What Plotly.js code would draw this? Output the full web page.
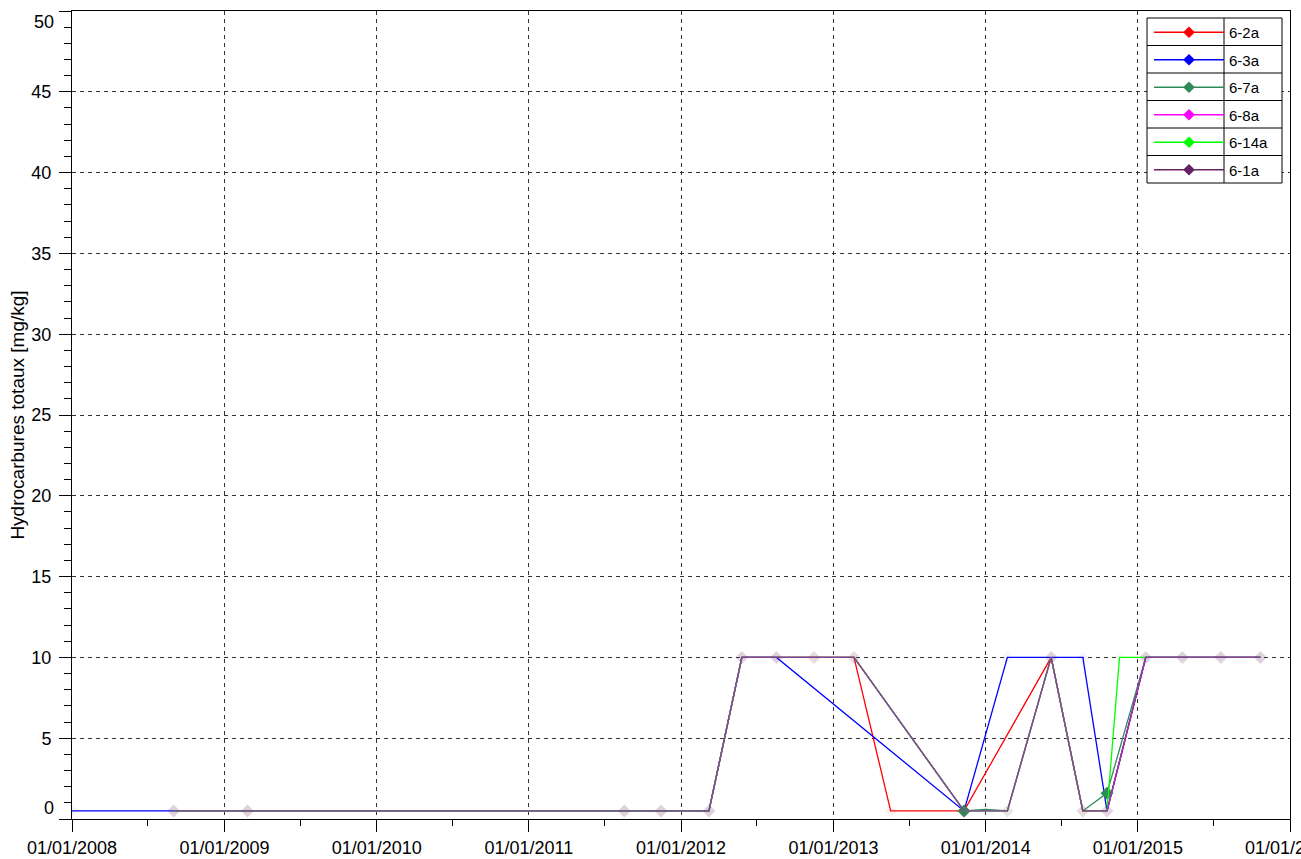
<!DOCTYPE html>
<html>
<head>
<meta charset="utf-8">
<script src="https://cdn.plot.ly/plotly-3.0.1.min.js"></script>
<style>html,body{margin:0;padding:0;background:#fff;}#chart{width:1301px;height:859px;}</style>
</head>
<body>
<div id="chart"></div>
<script>
// ---- data ----
var seriesNames = ["6-2a", "6-3a", "6-7a", "6-8a", "6-14a", "6-1a"];

var dates_6_2a = ["2008-09-01","2009-02-25","2011-08-18","2011-11-14","2012-03-08","2012-05-26","2012-08-17","2012-11-15","2013-02-19","2013-05-18","2013-11-10","2014-06-07","2014-08-22","2014-10-19","2015-01-20","2015-04-18","2015-07-19","2015-10-22"];
var values_6_2a = [0.5,0.5,0.5,0.5,0.5,10,10,10,10,0.5,0.5,10,0.5,0.5,10,10,10,10];

var dates_6_3a = ["2008-01-01","2008-09-01","2009-02-25","2011-08-18","2011-11-14","2012-03-08","2012-05-26","2012-08-17","2013-11-10","2014-02-22","2014-06-07","2014-08-22","2014-10-19","2015-01-20","2015-04-18","2015-07-19","2015-10-22"];
var values_6_3a = [0.5,0.5,0.5,0.5,0.5,0.5,10,10,0.5,10,10,10,0.5,10,10,10,10];

var dates_6_7a = ["2008-09-01","2009-02-25","2011-08-18","2011-11-14","2012-03-08","2012-05-26","2012-08-17","2012-11-15","2013-02-19","2013-11-10","2014-01-01","2014-02-22","2014-06-07","2014-08-22","2014-10-19","2015-01-20","2015-04-18","2015-07-19","2015-10-22"];
var values_6_7a = [0.5,0.5,0.5,0.5,0.5,10,10,10,10,0.5,0.6,0.5,10,0.5,1.6,10,10,10,10];
var measured_6_7a = [0,0,0,0,0,0,0,0,0,1,0,0,0,0,1,0,0,0,0];

var dates_6_8a = ["2008-09-01","2009-02-25","2011-08-18","2011-11-14","2012-03-08","2012-05-26","2012-08-17","2012-11-15","2013-02-19","2013-11-10","2014-02-22","2014-06-07","2014-08-22","2014-10-19","2015-01-20","2015-04-18","2015-07-19","2015-10-22"];
var values_6_8a = [0.5,0.5,0.5,0.5,0.5,10,10,10,10,0.5,0.5,10,0.5,0.5,10,10,10,10];

var dates_6_14a = ["2008-09-01","2009-02-25","2011-08-18","2011-11-14","2012-03-08","2012-05-26","2012-08-17","2012-11-15","2013-02-19","2013-11-10","2014-02-22","2014-06-07","2014-08-22","2014-10-19","2014-11-18","2015-01-20","2015-04-18","2015-07-19","2015-10-22"];
var values_6_14a = [0.5,0.5,0.5,0.5,0.5,10,10,10,10,0.5,0.5,10,0.5,0.5,10,10,10,10,10];

var dates_6_1a = ["2008-09-01","2009-02-25","2011-08-18","2011-11-14","2012-03-08","2012-05-26","2012-08-17","2012-11-15","2013-02-19","2013-11-10","2014-02-22","2014-06-07","2014-08-22","2014-10-19","2015-01-20","2015-04-18","2015-07-19","2015-10-22"];
var values_6_1a = [0.5,0.5,0.5,0.5,0.5,10,10,10,10,0.5,0.5,10,0.5,0.5,10,10,10,10];

var yTickVals = [0,5,10,15,20,25,30,35,40,45,50];
var yTitle = "Hydrocarbures totaux [mg/kg]";

// ---- styling ----
var lineColors = ["#ff0000", "#0000ff", "#2e8b57", "#ff00ff", "#00ff00", "#8c3f9c"];
var legendColors = ["#ff0000", "#0000ff", "#2e8b57", "#ff00ff", "#00ff00", "#662266"];
var faint = ["rgba(255,0,0,0.05)", "rgba(0,0,255,0.04)", "rgba(46,139,87,0.04)", "rgba(255,0,255,0.04)", "rgba(0,255,0,0.04)", "rgba(102,34,102,0.04)"];
var allDates = [dates_6_2a, dates_6_3a, dates_6_7a, dates_6_8a, dates_6_14a, dates_6_1a];
var allValues = [values_6_2a, values_6_3a, values_6_7a, values_6_8a, values_6_14a, values_6_1a];

var FONT = "Liberation Sans, Arial, sans-serif";
var traces = [];
for (var i = 0; i < seriesNames.length; i++) {
  var mc = allValues[i].map(function () { return faint[i]; });
  if (i === 2) {
    mc = measured_6_7a.map(function (m) { return m ? legendColors[2] : faint[2]; });
  }
  traces.push({
    type: "scatter", mode: "lines+markers", name: seriesNames[i],
    x: allDates[i], y: allValues[i],
    line: { color: lineColors[i], width: 1.3 },
    marker: { symbol: "diamond", size: 10, color: mc, line: { width: 0 } },
    showlegend: false, hoverinfo: "x+y+name"
  });
}
// legend entries
for (var j = 0; j < seriesNames.length; j++) {
  traces.push({
    type: "scatter", mode: "lines+markers", name: seriesNames[j],
    x: [null], y: [null], legendgroup: "g" + j,
    line: { color: legendColors[j], width: 1.3 },
    marker: { symbol: "diamond", size: 9, color: legendColors[j] },
    showlegend: true
  });
}

// pixel helpers for the legend frame (plot area 72..1290 x 11..819)
function px(x) { return (x - 72) / 1218; }
function py(y) { return (819 - y) / 808; }
var L = 1147, R = 1282, T = 18, rowH = 27.5, D = 1224;
var shapes = [{ type: "rect", xref: "paper", yref: "paper", x0: px(L), x1: px(R), y0: py(T), y1: py(T + 6 * rowH), fillcolor: "#ffffff", line: { color: "#000", width: 1 }, layer: "above" }];
shapes.push({ type: "line", xref: "paper", yref: "paper", x0: px(D), x1: px(D), y0: py(T), y1: py(T + 6 * rowH), line: { color: "#000", width: 1 }, layer: "above" });
for (var k = 1; k < 6; k++) {
  shapes.push({ type: "line", xref: "paper", yref: "paper", x0: px(L), x1: px(R), y0: py(T + k * rowH), y1: py(T + k * rowH), line: { color: "#000", width: 1 }, layer: "above" });
}

var layout = {
  width: 1301, height: 859,
  margin: { l: 72, r: 11, t: 11, b: 40 },
  paper_bgcolor: "#fff", plot_bgcolor: "#fff",
  font: { family: FONT, color: "#000", size: 16 },
  showlegend: true,
  legend: {
    x: px(L + 2), y: py(T - 2), xanchor: "left", yanchor: "top",
    bgcolor: "rgba(0,0,0,0)", borderwidth: 0,
    font: { family: FONT, size: 15, color: "#000" },
    itemwidth: 70, tracegroupgap: 5, traceorder: "grouped"
  },
  xaxis: {
    type: "date", range: ["2008-01-01", "2016-01-01"],
    dtick: "M12", tick0: "2008-01-01", tickformat: "%d/%m/%Y",
    ticks: "outside", ticklen: 12, tickcolor: "#000", tickwidth: 1,
    ticklabeloverflow: "allow",
    showline: true, linecolor: "#000", linewidth: 1, mirror: true,
    showgrid: true, gridcolor: "#333", griddash: "4px,4px", gridwidth: 1,
    tickfont: { family: FONT, size: 18, color: "#000" },
    minor: { dtick: "M12", tick0: "2008-07-01", ticklen: 6, tickcolor: "#000", ticks: "outside", showgrid: false },
    zeroline: false, fixedrange: true
  },
  yaxis: {
    range: [0, 50], tickvals: yTickVals,
    ticktext: yTickVals.map(function (v) { return (v === 0 || v === 50) ? "" : String(v); }),
    ticks: "outside", ticklen: 12, tickcolor: "#000", tickwidth: 1,
    showline: true, linecolor: "#000", linewidth: 1, mirror: true,
    showgrid: true, gridcolor: "#333", griddash: "4px,4px", gridwidth: 1,
    tickfont: { family: FONT, size: 18, color: "#000" },
    ticklabelstandoff: 4,
    minor: { dtick: 1, ticklen: 7, tickcolor: "#000", ticks: "outside", showgrid: false },
    title: { text: yTitle, font: { family: FONT, size: 19, color: "#000" } },
    zeroline: false, fixedrange: true
  },
  shapes: shapes,
  annotations: [
    { xref: "paper", yref: "y", x: 0, y: 0, text: "0", showarrow: false, xanchor: "right", yanchor: "middle", xshift: -16, yshift: 11, font: { family: FONT, size: 18, color: "#000" } },
    { xref: "paper", yref: "y", x: 0, y: 50, text: "50", showarrow: false, xanchor: "right", yanchor: "middle", xshift: -16, yshift: -11, font: { family: FONT, size: 18, color: "#000" } }
  ]
};

Plotly.newPlot("chart", traces, layout, { displayModeBar: false, staticPlot: true });
</script>
</body>
</html>
